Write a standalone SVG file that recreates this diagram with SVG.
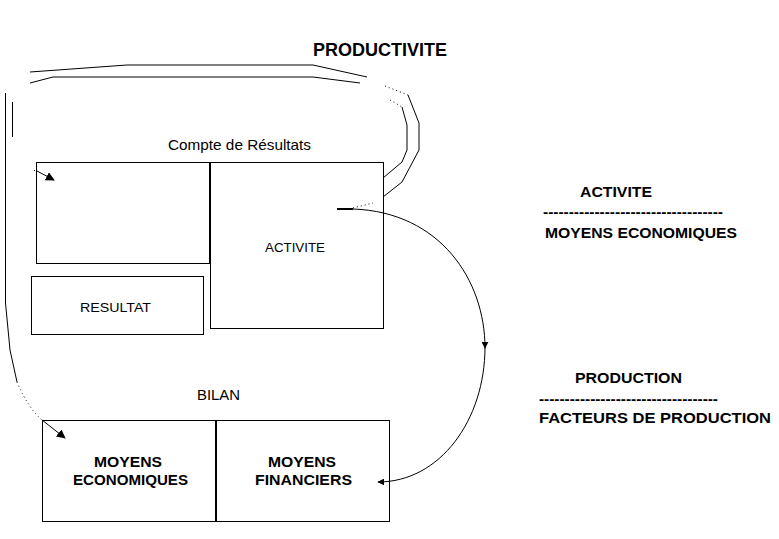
<svg xmlns="http://www.w3.org/2000/svg" width="779" height="539" viewBox="0 0 779 539">
<style>
.box{fill:none;stroke:#000;stroke-width:1}
.div{stroke:#000;stroke-width:2}
.ln{fill:none;stroke:#000;stroke-width:1}
.dot{fill:none;stroke:#000;stroke-width:1;stroke-dasharray:1 3}
.t{font-family:"Liberation Sans",Arial,sans-serif;fill:#000}
.b{font-weight:bold}
</style>
<defs>
<marker id="ah" viewBox="0 0 10 10" refX="9" refY="5" markerWidth="9" markerHeight="9" markerUnits="userSpaceOnUse" orient="auto">
<path d="M0,0 L10,5 L0,10 z" fill="#000"/>
</marker>
<marker id="ahs" viewBox="0 0 10 10" refX="9" refY="5" markerWidth="7" markerHeight="7" markerUnits="userSpaceOnUse" orient="auto">
<path d="M0,0 L10,5 L0,10 z" fill="#000"/>
</marker>
</defs>
<rect width="779" height="539" fill="#fff"/>

<g id="title">
<text class="t b" x="313" y="56" font-size="18" textLength="134" lengthAdjust="spacingAndGlyphs">PRODUCTIVITE</text>
</g>

<g id="compte-de-resultats">
<text class="t" x="168" y="150" font-size="14.5" textLength="143" lengthAdjust="spacingAndGlyphs">Compte de Résultats</text>
</g>

<g id="cr-left">
<rect class="box" x="36.5" y="162.5" width="173" height="101"/>
</g>

<g id="activite-box">
<rect class="box" x="210.5" y="162.5" width="173" height="166"/>
<line class="div" x1="210" y1="162" x2="210" y2="264"/>
<text class="t" x="265" y="252" font-size="13" textLength="60" lengthAdjust="spacingAndGlyphs">ACTIVITE</text>
</g>

<g id="resultat">
<rect class="box" x="31.5" y="276.5" width="172" height="58"/>
<text class="t" x="80" y="312" font-size="13.5" textLength="71" lengthAdjust="spacingAndGlyphs">RESULTAT</text>
</g>

<g id="bilan-label">
<text class="t" x="197" y="400" font-size="14.5" textLength="43" lengthAdjust="spacingAndGlyphs">BILAN</text>
</g>

<g id="moyens-economiques">
<rect class="box" x="42.5" y="420.5" width="174" height="101"/>
<text class="t b" x="94" y="467" font-size="15.5" textLength="68" lengthAdjust="spacingAndGlyphs">MOYENS</text>
<text class="t b" x="73" y="485" font-size="15.5" textLength="115" lengthAdjust="spacingAndGlyphs">ECONOMIQUES</text>
</g>

<g id="moyens-financiers">
<rect class="box" x="216.5" y="420.5" width="173" height="101"/>
<line class="div" x1="216" y1="420" x2="216" y2="522"/>
<text class="t b" x="268" y="467" font-size="15.5" textLength="68" lengthAdjust="spacingAndGlyphs">MOYENS</text>
<text class="t b" x="255" y="485" font-size="15.5" textLength="97" lengthAdjust="spacingAndGlyphs">FINANCIERS</text>
</g>

<g id="ratio-activite">
<text class="t b" x="580" y="197" font-size="15.5" textLength="72" lengthAdjust="spacingAndGlyphs">ACTIVITE</text>
<text class="t b" x="543" y="217" font-size="15.5" textLength="180" lengthAdjust="spacingAndGlyphs">-----------------------------------</text>
<text class="t b" x="545" y="238" font-size="15.5" textLength="192" lengthAdjust="spacingAndGlyphs">MOYENS ECONOMIQUES</text>
</g>

<g id="ratio-production">
<text class="t b" x="575" y="383" font-size="15.5" textLength="107" lengthAdjust="spacingAndGlyphs">PRODUCTION</text>
<text class="t b" x="539" y="404" font-size="15.5" textLength="179" lengthAdjust="spacingAndGlyphs">-----------------------------------</text>
<text class="t b" x="539" y="423" font-size="15.5" textLength="232" lengthAdjust="spacingAndGlyphs">FACTEURS DE PRODUCTION</text>
</g>

<g id="connectors">
<!-- double line (productivite loop) -->
<polyline class="ln" points="30,72 127,65 313,65 367,77"/>
<polyline class="ln" points="30,83 53,77 313,77 360,83"/>
<line class="dot" x1="385" y1="86" x2="408" y2="95"/>
<line class="dot" x1="390" y1="100" x2="402" y2="107"/>
<polyline class="ln" points="408,95 419,123 419,150 402,182 383,197"/>
<polyline class="ln" points="402,107 407,125 407,150 402,162 383,178"/>
<!-- left lines -->
<line class="ln" x1="5.5" y1="93" x2="5.5" y2="303"/>
<line class="ln" x1="12.5" y1="102" x2="12.5" y2="137"/>
<path class="ln" d="M5.5,303 L10,350 L17,382"/>
<path class="dot" d="M17,382 Q28,408 42,420"/>
<line class="ln" x1="42" y1="420" x2="65" y2="438" marker-end="url(#ah)"/>
<!-- small arrow in cr-left -->
<circle cx="34.5" cy="170.5" r="0.6" fill="#000"/>
<line class="ln" x1="37" y1="171" x2="54" y2="180" marker-end="url(#ah)"/>
<!-- activite arc -->
<line x1="337" y1="209" x2="353" y2="209" stroke="#000" stroke-width="2"/>
<line class="dot" x1="353" y1="208" x2="373" y2="203"/>
<path class="ln" d="M353,209 C440,212 485,280 485,348" marker-end="url(#ahs)"/>
<path class="ln" d="M485,347 C485,420 440,482 378,482" marker-end="url(#ahs)"/>
</g>
</svg>
